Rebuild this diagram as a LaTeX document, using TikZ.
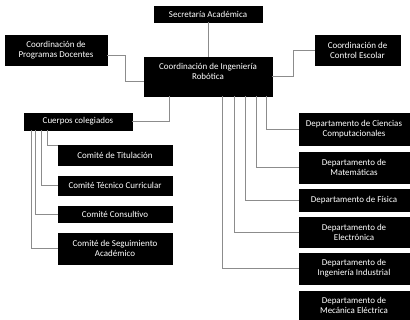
\documentclass[tikz,border=0pt]{standalone}
\usepackage{fontspec}
\setmainfont{Carlito}

\begin{document}
\begin{tikzpicture}[x=0.04cm,y=-0.04cm,inner sep=0pt,outer sep=0pt,
orgbox/.style={draw=black,fill=black,text=white,rectangle,align=center,font=\fontsize{10.2}{11.4}\selectfont},
link/.style={draw=black!45,line width=0.7pt}]
\useasboundingbox (0,0) rectangle (410,320);

\draw (208,14) node[orgbox,minimum width=4.32cm,minimum height=0.64cm] (sec) {Secretaría Académica};
\draw (56,50) node[orgbox,minimum width=4.08cm,minimum height=1.2cm] (doc) {Coordinación de\\Programas Docentes};
\draw (208,76.5) node[orgbox,minimum width=5.12cm,minimum height=1.56cm] (rob) {Coordinación de Ingeniería\\Robótica\\~};
\draw (357.5,50) node[orgbox,minimum width=3.4cm,minimum height=1.2cm] (esc) {Coordinación de\\Control Escolar};

\draw (78,121.5) node[orgbox,minimum width=4.32cm,minimum height=0.68cm] (cue) {Cuerpos colegiados};
\draw (115,155) node[orgbox,minimum width=4.56cm,minimum height=0.8cm] (tit) {Comité de Titulación};
\draw (115,185.5) node[orgbox,minimum width=4.56cm,minimum height=0.76cm] (tec) {Comité Técnico Curricular};
\draw (115,214) node[orgbox,minimum width=4.56cm,minimum height=0.64cm] (con) {Comité Consultivo};
\draw (115,248.5) node[orgbox,minimum width=4.56cm,minimum height=1.24cm] (seg) {Comité de Seguimiento\\Académico};

\draw (354,129) node[orgbox,minimum width=4.4cm,minimum height=1.28cm] (dcc) {Departamento de Ciencias\\Computacionales};
\draw (354,167.5) node[orgbox,minimum width=4.4cm,minimum height=1.24cm] (mat) {Departamento de\\Matemáticas};
\draw (354,200) node[orgbox,minimum width=4.4cm,minimum height=0.88cm] (fis) {Departamento de Física};
\draw (354,232) node[orgbox,minimum width=4.4cm,minimum height=1.2cm] (ele) {Departamento de\\Electrónica};
\draw (354,268.5) node[orgbox,minimum width=4.4cm,minimum height=1.24cm] (ind) {Departamento de\\Ingeniería Industrial};
\draw (354,305.5) node[orgbox,minimum width=4.4cm,minimum height=1.16cm] (mec) {Departamento de\\Mecánica Eléctrica};

\draw[link] (sec) -- (rob);
\draw[link] ([yshift=-0.2cm]doc.east) -- ++(18,0) |- ([yshift=-0.2cm]rob.west);
\draw[link] (rob.east) -- ++(21,0) |- (esc.west);
\draw[link] (rob.south) ++(-39,0) |- (cue.east);

\draw[link] (rob.south) ++(58,0) |- (dcc.west);
\draw[link] (rob.south) ++(48,0) |- (mat.west);
\draw[link] (rob.south) ++(37,0) |- (fis.west);
\draw[link] (rob.south) ++(26,0) |- (ele.west);
\draw[link] (rob.south) ++(14,0) |- (ind.west);

\draw[link] (cue.south) ++(-31,0) |- (tit.north west);
\draw[link] (cue.south) ++(-37,0) |- (tec.west);
\draw[link] (cue.south) ++(-43,0) |- (con.west);
\draw[link] (cue.south) ++(-47,0) |- (seg.west);
\end{tikzpicture}
\end{document}
